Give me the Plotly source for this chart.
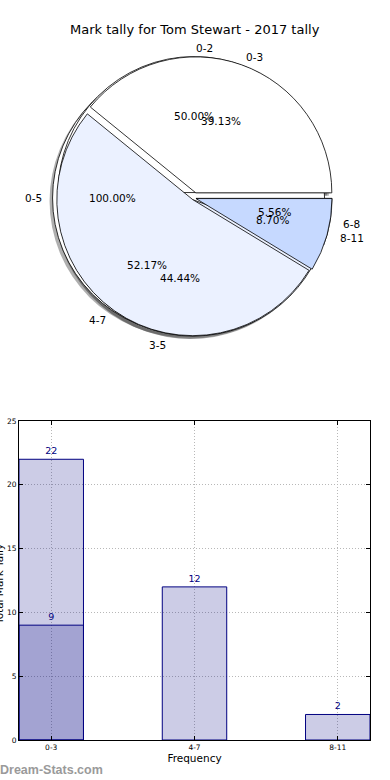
import math
import plotly.graph_objects as go

# ---------------- data ----------------
TITLE = "Mark tally for Tom Stewart - 2017 tally"

pie_a_labels = ["0-5"]
pie_a_values = [1]

pie_b_labels = ["0-2", "3-5", "6-8"]
pie_b_values = [9, 8, 1]

pie_c_labels = ["0-3", "4-7", "8-11"]
pie_c_values = [9, 12, 2]

bar_categories = ["0-3", "4-7", "8-11"]
bar_values = [22, 12, 2]
bar2_categories = ["0-3"]
bar2_values = [9]

y_ticks = [0, 5, 10, 15, 20, 25]

# ---------------- style / layout constants ----------------
W, H = 390, 780
SLICE_COLORS = ["#FFFFFF", "#EBF1FF", "#C6D9FF"]
PULLS = [0.04, 0.015, 0.015]
MAX_PULL = 0.04
PIE_CX_PX, PIE_CY_PX, PIE_R_PX = 194.0, 198.0, 136.0
SHADOW_DX, SHADOW_DY = -3.0, 3.0
FONT = "DejaVu Sans"
NAVY = "#000080"


def pie_domain(dx=0.0, dy=0.0):
    half = (1 + MAX_PULL) * PIE_R_PX
    cx, cy = PIE_CX_PX + dx, PIE_CY_PX + dy
    return dict(x=[(cx - half) / W, (cx + half) / W],
                y=[1 - (cy + half) / H, 1 - (cy - half) / H])


def pie_trace(labels, values, colors, pulls, dom, line=True):
    # first wedge starts at 3 o'clock and runs counter-clockwise (matplotlib style);
    # plotly's counter-clockwise pies end their first slice at `rotation`
    rot = 90.0 - 360.0 * values[0] / float(sum(values))
    return go.Pie(
        labels=labels, values=values, sort=False, direction="counterclockwise",
        rotation=rot, pull=pulls, domain=dom, textinfo="none", hoverinfo="skip",
        showlegend=False, automargin=False,
        marker=dict(colors=colors,
                    line=dict(color="black" if line else "rgba(0,0,0,0)",
                              width=0.8 if line else 0)),
    )


def pie_texts(labels, values):
    anns = []
    total = float(sum(values))
    cum = 0.0
    for lab, v in zip(labels, values):
        a0 = 2 * math.pi * cum / total
        cum += v
        a1 = 2 * math.pi * cum / total
        mid = 0.5 * (a0 + a1)
        c, s = math.cos(mid), math.sin(mid)
        px = PIE_CX_PX + 0.6 * PIE_R_PX * c
        py = PIE_CY_PX - 0.6 * PIE_R_PX * s
        anns.append(dict(x=px / W, y=1 - py / H, xref="paper", yref="paper",
                         text=f"{100.0 * v / total:.2f}%", showarrow=False,
                         xanchor="center", yanchor="middle",
                         font=dict(family=FONT, size=10.5, color="black")))
        lx = PIE_CX_PX + 1.1 * PIE_R_PX * c
        ly = PIE_CY_PX - 1.1 * PIE_R_PX * s
        anns.append(dict(x=lx / W, y=1 - ly / H, xref="paper", yref="paper",
                         text=lab, showarrow=False,
                         xanchor="left" if c > 0 else "right", yanchor="middle",
                         font=dict(family=FONT, size=10.5, color="black")))
    return anns


fig = go.Figure()

pies = [
    (pie_a_labels, pie_a_values, [MAX_PULL]),
    (pie_b_labels, pie_b_values, PULLS),
    (pie_c_labels, pie_c_values, PULLS),
]

# shadows first (beneath every wedge)
for labs, vals, pl in pies:
    fig.add_trace(pie_trace(labs, vals, ["rgba(77,77,77,0.45)"] * len(vals), pl,
                            pie_domain(SHADOW_DX, SHADOW_DY), line=False))
# wedges
for labs, vals, pl in pies:
    fig.add_trace(pie_trace(labs, vals, SLICE_COLORS[:len(vals)], pl, pie_domain()))

# bars
BAR_FILL = "rgba(0,0,128,0.2)"
for cats, vals in [(bar_categories, bar_values), (bar2_categories, bar2_values)]:
    fig.add_trace(go.Bar(x=cats, y=vals, width=0.45,
                         marker=dict(color=BAR_FILL, line=dict(color=NAVY, width=1)),
                         text=[str(v) for v in vals], textposition="outside",
                         textfont=dict(family=FONT, size=9.5, color=NAVY),
                         cliponaxis=False, hoverinfo="skip", showlegend=False))

annotations = []
for labs, vals, pl in pies:
    annotations += pie_texts(labs, vals)

annotations.append(dict(x=0.5, y=1 - 30.0 / H, xref="paper", yref="paper",
                        text=TITLE, showarrow=False, xanchor="center", yanchor="middle",
                        font=dict(family=FONT, size=13, color="black")))
annotations.append(dict(x=-1.0 / W, y=1 - 585.0 / H, xref="paper", yref="paper",
                        text="Total Mark Tally", showarrow=False, textangle=-90,
                        xanchor="center", yanchor="middle",
                        font=dict(family=FONT, size=10.5, color="black")))
annotations.append(dict(x=-2.0 / W, y=1 - 770.0 / H, xref="paper", yref="paper",
                        text="<b>Dream-Stats.com</b>", showarrow=False,
                        xanchor="left", yanchor="middle",
                        font=dict(family="Liberation Sans", size=12.5, color="#9a9a9a")))

axis_common = dict(showline=True, linecolor="black", linewidth=1, mirror="ticks",
                   ticks="inside", ticklen=4, tickcolor="black", tickwidth=1,
                   showgrid=True, gridcolor="#b8b8b8", griddash="1px,2px", gridwidth=1,
                   zeroline=False, automargin=False,
                   tickfont=dict(family=FONT, size=7.5, color="black"))

fig.update_layout(
    width=W, height=H, autosize=False,
    margin=dict(l=0, r=0, t=0, b=0, pad=0, autoexpand=False),
    paper_bgcolor="white", plot_bgcolor="white",
    barmode="overlay",
    annotations=annotations,
    xaxis=dict(domain=[19.0 / W, 370.0 / W], type="category",
               range=[-0.225, 2.225],
               title=dict(text="Frequency", standoff=2,
                          font=dict(family=FONT, size=10.5, color="black")),
               **axis_common),
    yaxis=dict(domain=[1 - 740.0 / H, 1 - 421.0 / H], range=[0, 25],
               tickvals=y_ticks, **axis_common),
)

fig.write_html("out.html", config={"displayModeBar": False},
               post_script="document.body.style.margin='0';document.body.style.padding='0';")
